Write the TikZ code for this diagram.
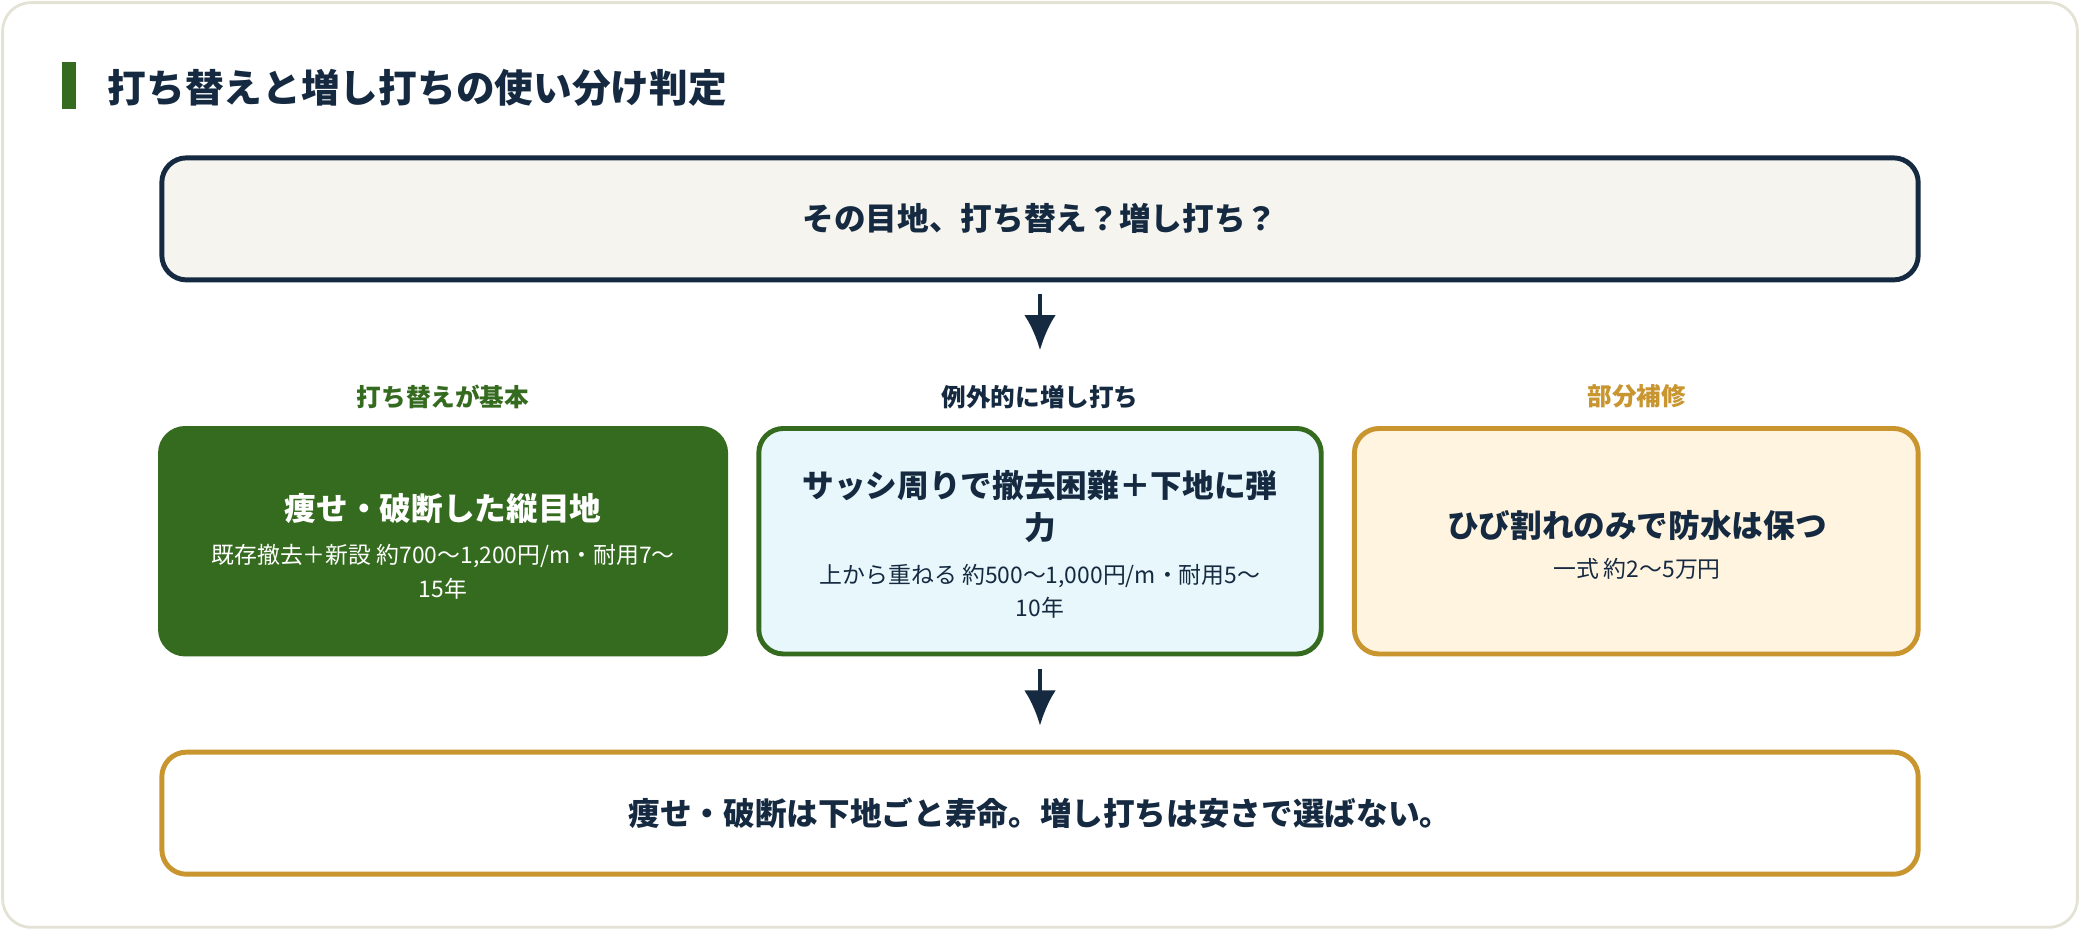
\documentclass[tikz,border=0pt]{standalone}
\usepackage{fontspec}
\setmainfont{Noto Sans CJK JP}
\newfontfamily\cjkbold{Noto Sans CJK JP Bold}
\usetikzlibrary{positioning}
\definecolor{navy}{HTML}{152A40}
\definecolor{leaf}{HTML}{356B1F}
\definecolor{gold}{HTML}{C9952F}
\definecolor{paper}{HTML}{F5F4EF}
\definecolor{ice}{HTML}{E8F7FB}
\definecolor{cream}{HTML}{FFF4E0}
\definecolor{frame}{HTML}{E4E2D4}
\tikzset{
  flow/.style = {-{Latex[length=10pt,width=9pt]}, line width=1.2pt, navy},
  wide box/.style = {draw=#1, line width=1.4pt, rounded corners=7pt},
  card/.style = {line width=1.4pt, rounded corners=7pt},
  head/.style = {font=\bfseries\fontsize{7}{8}\selectfont, anchor=center},
  lead/.style = {font=\bfseries\fontsize{9}{12}\selectfont, align=center},
  body/.style = {font=\fontsize{6.5}{9.5}\selectfont, align=center}
}
\usetikzlibrary{arrows.meta}
\begin{document}
\begin{tikzpicture}[x=0.013265cm, y=-0.013265cm]
\useasboundingbox (0,0) rectangle (1568,701);
\draw[frame, line width=0.8pt, fill=white, rounded corners=8pt] (2,2) rectangle (1566,699);

% -- title
\fill[leaf] (47,47) rectangle (57,82);
\node[anchor=west, navy, font=\bfseries\fontsize{11}{13}\selectfont] (title) at (72,66) {打ち替えと増し打ちの使い分け判定};

% -- question
\draw[wide box=navy, fill=paper] (122,119) rectangle (1446,211);
\node[lead, navy] (q) at (784,165) {その目地、打ち替え？増し打ち？};
\coordinate (q1) at (784,222);
\coordinate (q2) at (784,264);
\draw[flow] (q1) -- (q2);

% -- options
\node[head, leaf] (h1) at (334,299) {打ち替えが基本};
\node[head, navy] (h2) at (784,299) {例外的に増し打ち};
\node[head, gold] (h3) at (1234,299) {部分補修};

\draw[card, draw=leaf, fill=leaf] (121,323) rectangle (547,493);
\draw[card, draw=leaf, fill=ice] (572,323) rectangle (996,493);
\draw[card, draw=gold, fill=cream] (1021,323) rectangle (1446,493);

\node[lead, white] (a1) at (334,383) {痩せ・破断した縦目地};
\node[body, white, below=-1pt of a1] (b1) {既存撤去＋新設 約700〜1,200円/m・耐用7〜\\15年};
\node[lead, navy] (a2) at (784,382) {サッシ周りで撤去困難＋下地に弾\\力};
\node[body, navy, below=-1pt of a2] (b2) {上から重ねる 約500〜1,000円/m・耐用5〜\\10年};
\node[lead, navy] (a3) at (1234,396) {ひび割れのみで防水は保つ};
\node[body, navy, below=-2pt of a3] (b3) {一式 約2〜5万円};

\coordinate (r1) at (784,504);
\coordinate (r2) at (784,547);
\draw[flow] (r1) -- (r2);

% -- conclusion
\draw[wide box=gold, fill=white] (122,567) rectangle (1446,659);
\node[lead, navy] (c) at (784,613) {痩せ・破断は下地ごと寿命。増し打ちは安さで選ばない。};
\end{tikzpicture}
\end{document}
